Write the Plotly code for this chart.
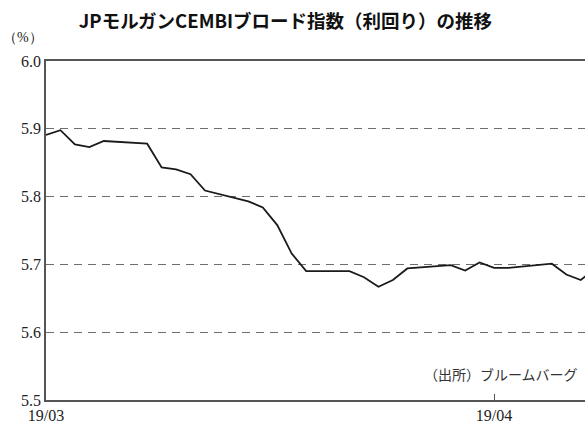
import plotly.graph_objects as go

dates = ["2019-03-04", "2019-03-05", "2019-03-06", "2019-03-07", "2019-03-08",
         "2019-03-11", "2019-03-12", "2019-03-13", "2019-03-14", "2019-03-15",
         "2019-03-18", "2019-03-19", "2019-03-20", "2019-03-21", "2019-03-22",
         "2019-03-25", "2019-03-26", "2019-03-27", "2019-03-28", "2019-03-29",
         "2019-04-01", "2019-04-02", "2019-04-03", "2019-04-04", "2019-04-05",
         "2019-04-08", "2019-04-09", "2019-04-10", "2019-04-11"]
yields = [5.891, 5.898, 5.877, 5.873, 5.882,
          5.878, 5.843, 5.840, 5.833, 5.809,
          5.793, 5.784, 5.758, 5.716, 5.690,
          5.690, 5.681, 5.667, 5.677, 5.694,
          5.699, 5.691, 5.703, 5.695, 5.695,
          5.701, 5.685, 5.677, 5.694]
x_tick_vals = ["2019-03-04", "2019-04-04"]
x_tick_text = ["19/03", "19/04"]
y_tick_vals = [5.5, 5.6, 5.7, 5.8, 5.9, 6.0]
y_tick_text = ["5.5", "5.6", "5.7", "5.8", "5.9", "6.0"]

title_text = "JPモルガンCEMBIブロード指数（利回り）の推移"
unit_text = "（%）"
source_text = "（出所）ブルームバーグ"

fig = go.Figure()
fig.add_trace(go.Scatter(
    x=dates, y=yields, mode="lines",
    line=dict(color="#1a1a1a", width=1.8),
    hoverinfo="skip", showlegend=False,
))

serif = "Liberation Serif, Times New Roman, serif"
cjk = "Noto Sans CJK JP"

fig.update_layout(
    width=585, height=426,
    margin=dict(l=46, r=0, t=61, b=26),
    paper_bgcolor="white", plot_bgcolor="white",
    title=dict(text=title_text, x=0.488, xref="container", xanchor="center",
               y=1 - 22 / 426, yref="container", yanchor="middle",
               font=dict(family=cjk, size=18.5, color="#111", weight="bold")),
    xaxis=dict(
        type="date", range=["2019-03-04", "2019-04-10 07:00"],
        tickvals=x_tick_vals, ticktext=x_tick_text,
        ticks="inside", ticklen=6, tickcolor="#555", tickwidth=1.2,
        showline=True, linecolor="#555", linewidth=1.5, mirror=True,
        showgrid=False, zeroline=False,
        tickfont=dict(family=serif, size=16, color="#222"),
    ),
    yaxis=dict(
        range=[5.5, 6.0], tickvals=y_tick_vals, ticktext=y_tick_text,
        ticks="", showline=True, linecolor="#555", linewidth=1.5,
        showgrid=True, gridcolor="#6e6e6e", gridwidth=1.4, griddash="8px,6px",
        zeroline=False,
        tickfont=dict(family=serif, size=16, color="#222"),
    ),
    annotations=[
        dict(text=unit_text, xref="paper", yref="paper", x=-0.084, y=1.07,
             xanchor="left", yanchor="middle", showarrow=False,
             font=dict(family=serif, size=14, color="#222")),
        dict(text=source_text, xref="paper", yref="paper", x=0.99, y=0.077,
             xanchor="right", yanchor="middle", showarrow=False,
             font=dict(family=cjk, size=14, color="#333")),
    ],
)

fig.write_html("out.html", config={"displayModeBar": False},
               post_script="document.body.style.margin='0';document.body.style.overflow='hidden';")
